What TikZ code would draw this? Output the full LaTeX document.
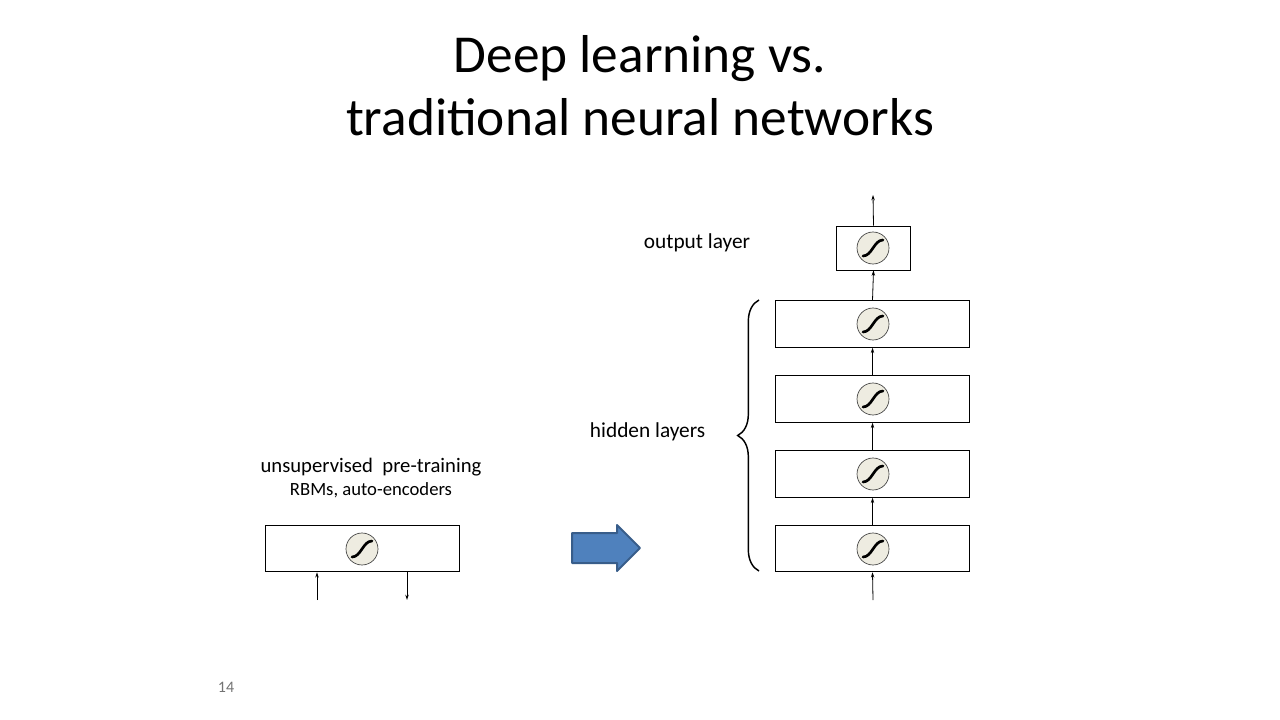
\documentclass[tikz,border=0pt]{standalone}
\usepackage{fontspec}
\setmainfont{Carlito}
\usetikzlibrary{arrows.meta,decorations.pathreplacing}

\definecolor{sigfill}{HTML}{EEECE1}
\definecolor{arrowblue}{HTML}{4F81BD}
\definecolor{arrowedge}{HTML}{385D8A}

\begin{document}
\begin{tikzpicture}[x=0.75pt, y=-0.75pt,
  layer/.style={draw, line width=0.6pt, minimum width=146pt, minimum height=35pt, inner sep=0pt},
  unit/.style={circle, draw=black!75, fill=sigfill, line width=0.5pt, minimum size=24pt, inner sep=0pt},
  link/.style={-{Stealth[length=4pt, width=2.6pt]}, line width=0.6pt},
  sig/.style={line width=2pt, line cap=round}]
  \useasboundingbox (0,0) rectangle (1280,720);

  % title
  \node[align=center, font=\fontsize{40}{47}\selectfont] (title) at (640,86) {Deep learning vs.\\traditional neural networks};

  % pre-training layer
  \node[layer] (pre) at (362.5,548.5) {};
  \node[unit] (preu) at (362,549) {};
  \node[font=\fontsize{15.5}{18}\selectfont] (pretxt) at (371,467) {unsupervised\ \ pre-training};
  \node[font=\fontsize{14}{17}\selectfont] (pretxtb) at (371,490) {RBMs, auto-encoders};
  \coordinate (prein) at (317,600);
  \coordinate (preout) at (407,600);
  \draw[link] (prein) -- (prein |- pre.south);
  \draw[link] (preout |- pre.south) -- (preout);

  % big arrow
  \draw[fill=arrowblue, draw=arrowedge, line width=1.5pt, line join=round]
    (572,533) -- (617,533) -- (617,525) -- (640,548) -- (617,571) -- (617,563) -- (572,563) -- cycle;

  % deep network
  \node[layer] (h1) at (872.5,548.5) {};
  \node[layer] (h2) at (872.5,474) {};
  \node[layer] (h3) at (872.5,399) {};
  \node[layer] (h4) at (872.5,324) {};
  \node[layer, minimum width=55pt, minimum height=33pt] (out) at (873.5,248) {};
  \node[unit] (u1) at (873,549) {};
  \node[unit] (u2) at (873,474) {};
  \node[unit] (u3) at (873,399) {};
  \node[unit] (u4) at (873,324) {};
  \node[unit] (uo) at (873,248) {};

  \coordinate (netin) at (873,600);
  \coordinate (netout) at (873,195);
  \draw[link] (netin) -- (h1.south);
  \draw[link] (h1.north) -- (h2.south);
  \draw[link] (h2.north) -- (h3.south);
  \draw[link] (h3.north) -- (h4.south);
  \draw[link] (h4.north) -- (out.south);
  \draw[link] (out.north) -- (netout);

  % sigmoids
  \foreach \u in {preu,u1,u2,u3,u4,uo}
    \draw[sig] ([shift={(-10,8)}]\u.center) .. controls ([shift={(-1,8)}]\u.center) and ([shift={(1,-8)}]\u.center) .. ([shift={(10,-8)}]\u.center);

  % labels
  \node[font=\fontsize{16}{19}\selectfont] (outtxt) at (697,243) {output layer};
  \coordinate (bracebot) at (759,571);
  \coordinate (bracetop) at (759,300);
  \draw[decorate, decoration={brace, amplitude=16pt}, line width=1.1pt] (bracebot) -- (bracetop);
  \node[anchor=east, font=\fontsize{16}{19}\selectfont] (hidtxt) at (710,432) {hidden layers};

  % page number
  \node[text=black!55, font=\fontsize{12}{14}\selectfont] (pagenum) at (226,687) {14};
\end{tikzpicture}
\end{document}
